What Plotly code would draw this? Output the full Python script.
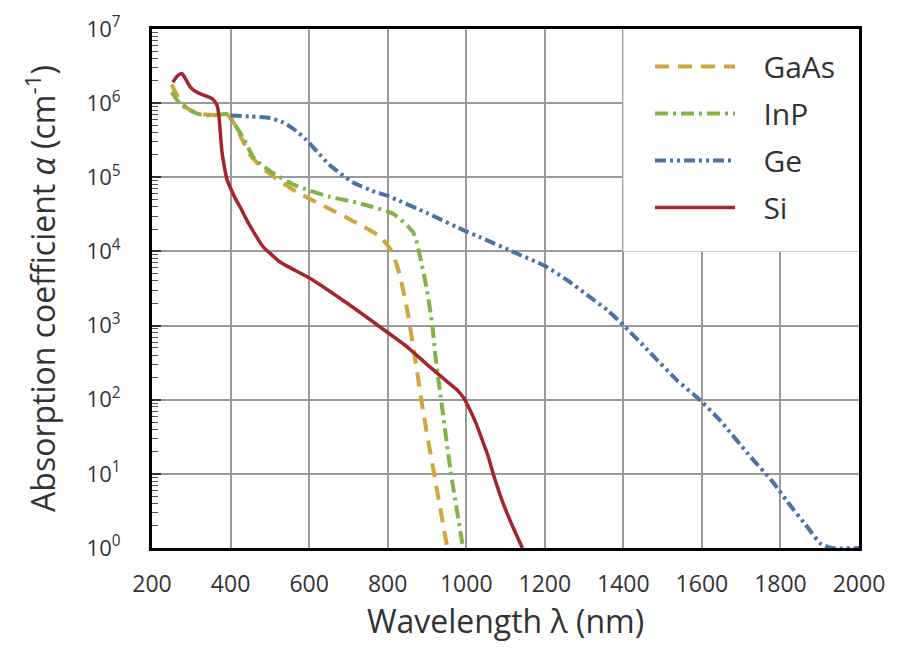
import plotly.graph_objects as go

# ---------------- data ----------------
gaas_wl = [250, 270, 290, 320, 360, 390, 410, 430, 450, 480, 520, 570, 650, 710, 780, 810, 830, 850, 870, 890, 920, 952]
gaas_a = [1.78e6, 1.12e6, 8.5e5, 7.2e5, 6.9e5, 7.1e5, 5.2e5, 3.2e5, 2.0e5, 1.35e5, 9.3e4, 6.3e4, 3.8e4, 2.6e4, 1.6e4,
          1.0e4, 5.0e3, 1.6e3, 355, 71, 8.9, 1.0]

inp_wl = [250, 270, 290, 320, 360, 390, 410, 435, 460, 510, 570, 650, 710, 760, 815, 865, 883, 900, 913, 922, 935, 960, 992]
inp_a = [1.41e6, 1.0e6, 8.3e5, 7.1e5, 6.8e5, 7.1e5, 5.2e5, 3.2e5, 1.8e5, 1.12e5, 7.6e4, 5.5e4, 4.7e4, 4.0e4, 3.2e4,
         1.8e4, 8.3e3, 3.0e3, 1.07e3, 372, 110, 11.2, 1.0]

ge_wl = [400, 450, 500, 530, 560, 590, 620, 650, 680, 712, 760, 800, 900, 1000, 1036, 1130, 1197, 1257, 1316, 1359,
         1405, 1469, 1537, 1596, 1647, 1716, 1782, 1818, 1869, 1902, 1930, 2000]
ge_a = [6.8e5, 6.6e5, 6.3e5, 5.6e5, 4.5e5, 3.3e5, 2.24e5, 1.5e5, 1.12e5, 8.5e4, 6.6e4, 5.6e4, 3.3e4, 1.86e4, 1.55e4,
        9.3e3, 6.5e3, 4.1e3, 2.4e3, 1.62e3, 955, 427, 182, 98, 52, 19, 7.6, 4.2, 1.9, 1.15, 1.0, 1.0]

si_wl = [253, 265, 276, 285, 297, 310, 330, 353, 365, 370, 374, 378, 385, 391, 400, 412, 424, 442, 460, 483, 500, 526,
         610, 697, 781, 850, 908, 950, 975, 993, 1010, 1025, 1040, 1055, 1070, 1094, 1120, 1143]
si_a = [1.91e6, 2.34e6, 2.51e6, 2.14e6, 1.66e6, 1.45e6, 1.29e6, 1.15e6, 9.5e5, 7.1e5, 4.0e5, 2.24e5, 1.32e5, 9.3e4,
        7.1e4, 5.2e4, 4.0e4, 2.6e4, 1.78e4, 1.15e4, 9.5e3, 7.2e3, 4.1e3, 2.0e3, 955, 513, 275, 178, 138, 107, 72, 48,
        29.5, 17.8, 9.5, 4.0, 1.86, 1.0]

x_ticks = [200, 400, 600, 800, 1000, 1200, 1400, 1600, 1800, 2000]
y_exponents = [0, 1, 2, 3, 4, 5, 6, 7]
minor_digits = [2, 3, 4, 5, 6, 7, 8, 9]

# ---------------- figure ----------------
FONT = "Open Sans"
TXT = "#333333"

series = [
    ("GaAs", gaas_wl, gaas_a, "#D3A43A", "14px,9px", 4),
    ("InP", inp_wl, inp_a, "#80B447", "13px,5px,3px,5px", 4),
    ("Ge", ge_wl, ge_a, "#4A72A6", "11px,4px,3px,4px,3px,4px", 4),
    ("Si", si_wl, si_a, "#A4262C", "solid", 3.5),
]

fig = go.Figure()
for name, wl, a, color, dash, w in series:
    fig.add_trace(go.Scatter(
        x=wl, y=a, name="\u00a0\u00a0\u00a0" + name, mode="lines", legendgroup=name,
        line=dict(color=color, dash=dash, width=w, shape="spline", smoothing=0.6),
    ))

# white panel behind the legend (hides the grid in that corner, as in the reference)
fig.add_shape(type="rect", xref="x", yref="y", x0=1400, x1=2000, y0=1e4, y1=1e7,
              fillcolor="white", line=dict(width=0), layer="between")

fig.update_layout(
    width=909, height=654,
    margin=dict(l=152, r=50, t=29, b=106, autoexpand=False),
    paper_bgcolor="white", plot_bgcolor="white",
    font=dict(family=FONT, color=TXT, size=22),
    showlegend=True,
    legend=dict(
        x=0.7044, y=0.978, xanchor="left", yanchor="top",
        bgcolor="rgba(0,0,0,0)", borderwidth=0,
        font=dict(family=FONT, size=30, color=TXT),
        itemwidth=80, tracegroupgap=5,
    ),
)

fig.update_xaxes(
    range=[200, 2000], tickvals=x_ticks, ticktext=[str(v) for v in x_ticks],
    showgrid=True, gridcolor="#9a9a9a", gridwidth=1.5,
    showline=True, linecolor="black", linewidth=3, mirror=True,
    ticks="", ticklabelstandoff=13,
    tickfont=dict(family=FONT, size=23, color=TXT),
    title=dict(text="Wavelength λ (nm)", font=dict(family=FONT, size=32, color=TXT), standoff=14),
    zeroline=False,
)

fig.update_yaxes(
    type="log", range=[0, 7],
    tickvals=[10 ** e for e in y_exponents],
    ticktext=["10<sup>%d</sup>" % e for e in y_exponents],
    showgrid=True, gridcolor="#9a9a9a", gridwidth=1.5,
    showline=True, linecolor="black", linewidth=3, mirror=True,
    ticks="inside", ticklen=9, tickcolor="#333333", tickwidth=1.5,
    minor=dict(ticks="inside", ticklen=6, tickcolor="#555555", tickwidth=1.2, showgrid=False,
               tickvals=[d * 10 ** e for e in y_exponents[:-1] for d in minor_digits]),
    ticklabelstandoff=24,
    tickfont=dict(family=FONT, size=22, color=TXT),
    title=dict(text="Absorption coefficient <i>α</i> (cm<sup>-1</sup>)",
               font=dict(family=FONT, size=32, color=TXT), standoff=22),
    zeroline=False,
)

fig.write_html("out.html")
